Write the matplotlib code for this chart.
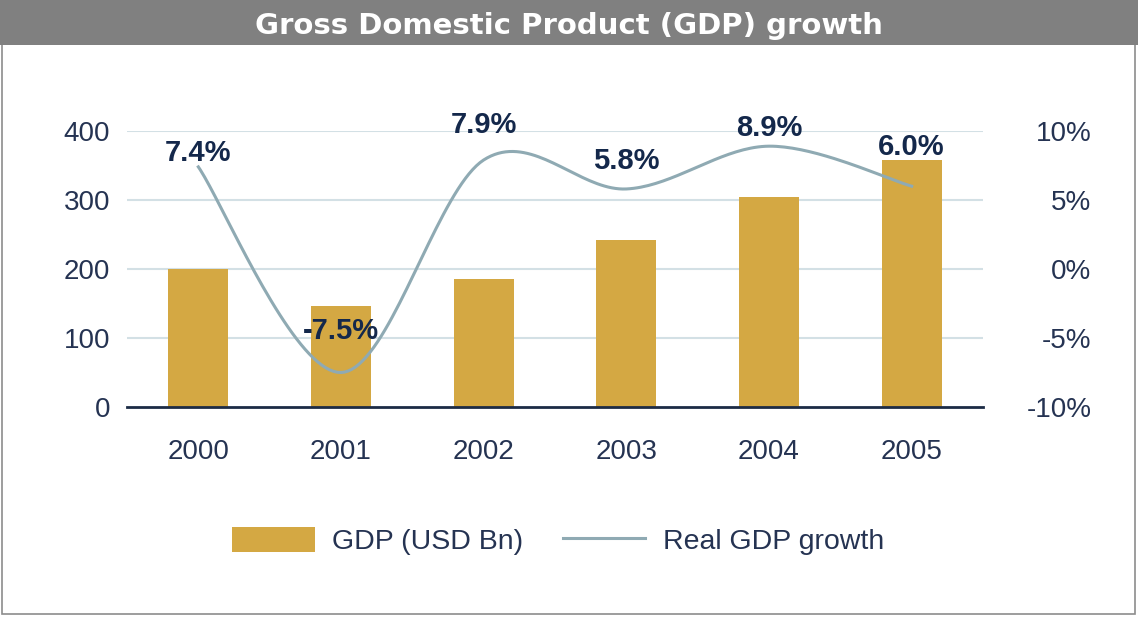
import numpy as np
import matplotlib.pyplot as plt
from matplotlib.patches import Rectangle, Patch
from matplotlib.lines import Line2D

years = ["2000", "2001", "2002", "2003", "2004", "2005"]
gdp_usd_bn = [200, 147, 185, 242, 305, 358]
real_growth = [7.4, -7.5, 7.9, 5.8, 8.9, 6.0]

BAR = "#D4A843"
LINE = "#8FAAB3"
GRID = "#D3E0E5"
TEXT = "#253352"
LABEL = "#14284B"


def smooth(xs, ys, n=40):
    # Excel-style smoothed line: cubic Bezier with Catmull-Rom control points
    xs = np.asarray(xs, float)
    ys = np.asarray(ys, float)
    px = np.concatenate([[xs[0]], xs, [xs[-1]]])
    py = np.concatenate([[ys[0]], ys, [ys[-1]]])
    out_x, out_y = [], []
    t = np.linspace(0, 1, n)
    for i in range(1, len(px) - 2):
        p0 = np.array([px[i], py[i]])
        p3 = np.array([px[i + 1], py[i + 1]])
        p1 = p0 + (np.array([px[i + 1], py[i + 1]]) - np.array([px[i - 1], py[i - 1]])) / 6
        p2 = p3 - (np.array([px[i + 2], py[i + 2]]) - np.array([px[i], py[i]])) / 6
        b = ((1 - t) ** 3)[:, None] * p0 + (3 * (1 - t) ** 2 * t)[:, None] * p1 \
            + (3 * (1 - t) * t ** 2)[:, None] * p2 + (t ** 3)[:, None] * p3
        out_x.extend(b[:, 0])
        out_y.extend(b[:, 1])
    return np.array(out_x), np.array(out_y)


plt.rcParams["font.family"] = ["Liberation Sans", "DejaVu Sans"]

fig = plt.figure(figsize=(11.38, 6.17), dpi=100)
W, H = 1138, 617

# outer frame and title bar
fig.patches.append(Rectangle((2 / W, 3 / H), 1133 / W, 1 - 3 / H, transform=fig.transFigure,
                             facecolor="white", edgecolor="#8C8C8C", linewidth=1.2, zorder=0))
fig.patches.append(Rectangle((0, 1 - 45 / H), 1, 45 / H, transform=fig.transFigure,
                             facecolor="#808080", edgecolor="none", zorder=1))
fig.text(0.5, 1 - 26 / H, "Gross Domestic Product (GDP) growth", color="white",
         fontsize=21, fontweight="bold", ha="center", va="center", family="DejaVu Sans")

ax = fig.add_axes([127 / W, 1 - 407 / H, 856 / W, 276 / H])
ax.set_zorder(2)
ax.patch.set_visible(False)
x = np.arange(len(years))
ax.bar(x, gdp_usd_bn, width=0.42, color=BAR, zorder=2)
ax.set_xlim(-0.5, len(years) - 0.5)
ax.set_ylim(0, 400)
ax.set_yticks([0, 100, 200, 300, 400])
ax.set_xticks(x)
ax.set_xticklabels(years)
for y in [100, 200, 300, 400]:
    ax.axhline(y, color=GRID, linewidth=1.5, zorder=1)
for s in ["top", "right", "left"]:
    ax.spines[s].set_visible(False)
ax.spines["bottom"].set_color("#1C2B45")
ax.spines["bottom"].set_linewidth(2)
ax.spines["bottom"].set_zorder(5)
ax.tick_params(axis="both", length=0, labelsize=20, labelcolor=TEXT)
ax.tick_params(axis="x", pad=23)
ax.tick_params(axis="y", pad=12)

ax2 = ax.twinx()
ax2.set_zorder(3)
ax2.set_ylim(-10, 10)
ax2.set_yticks([-10, -5, 0, 5, 10])
ax2.set_yticklabels(["-10%", "-5%", "0%", "5%", "10%"])
for s in ax2.spines.values():
    s.set_visible(False)
ax2.tick_params(axis="y", length=0, labelsize=20, labelcolor=TEXT, pad=78)
for lab in ax2.get_yticklabels():
    lab.set_horizontalalignment("right")

sx, sy = smooth(x, real_growth)
ax2.plot(sx, sy, color=LINE, linewidth=2.2, zorder=3)

label_offsets = [10, 30, 25, 20, 13, 28]
for xi, yi, off in zip(x, real_growth, label_offsets):
    ax2.annotate(f"{yi:.1f}%", (xi, yi), xytext=(0, off), textcoords="offset points",
                 ha="center", va="center", fontsize=21, fontweight="bold", color=LABEL)

handles = [Patch(facecolor=BAR, edgecolor="none", label="GDP (USD Bn)"),
           Line2D([0], [0], color=LINE, linewidth=2.2, label="Real GDP growth")]
fig.legend(handles=handles, loc="center", bbox_to_anchor=(558 / W, 1 - 541 / H), ncol=2,
           frameon=False, fontsize=20.5, handlelength=2.9, handleheight=1.0,
           columnspacing=1.4, handletextpad=0.6, labelcolor=TEXT)

fig.savefig("out.png", dpi=100)
